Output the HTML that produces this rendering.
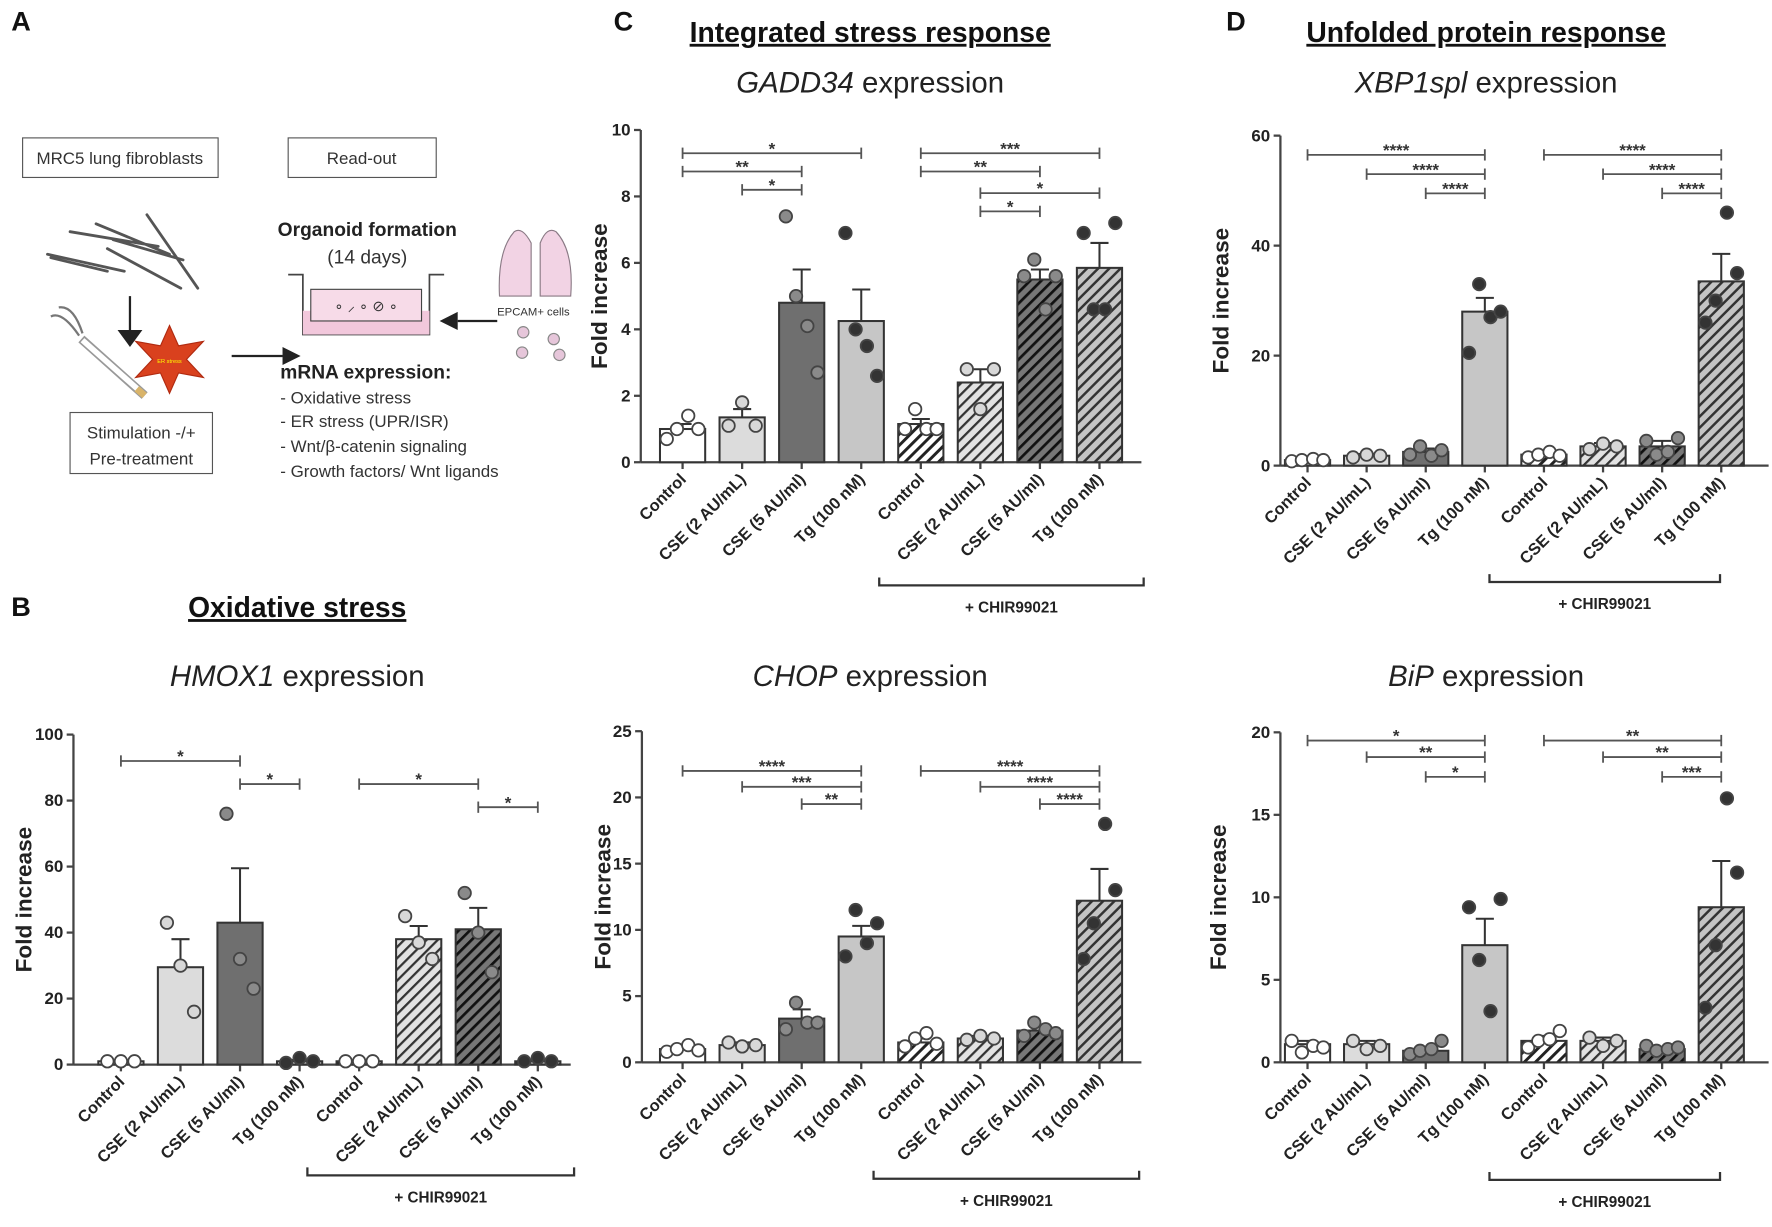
<!DOCTYPE html>
<html><head><meta charset="utf-8"><style>
html,body{margin:0;padding:0;background:#fff;}
svg{display:block;font-family:"Liberation Sans",Arial,sans-serif;}
</style></head><body>
<svg id="fig" width="1772" height="1227" viewBox="0 0 1568 1085.7" xmlns="http://www.w3.org/2000/svg">
<defs>
<pattern id="h0" patternUnits="userSpaceOnUse" width="7" height="7" patternTransform="rotate(45)"><rect width="7" height="7" fill="#fff"/><rect width="2.6" height="7" fill="#222"/></pattern>
<pattern id="h1" patternUnits="userSpaceOnUse" width="7" height="7" patternTransform="rotate(45)"><rect width="7" height="7" fill="#e2e2e2"/><rect width="2" height="7" fill="#333"/></pattern>
<pattern id="h2" patternUnits="userSpaceOnUse" width="7" height="7" patternTransform="rotate(45)"><rect width="7" height="7" fill="#777"/><rect width="2.4" height="7" fill="#111"/></pattern>
<pattern id="h3" patternUnits="userSpaceOnUse" width="7" height="7" patternTransform="rotate(45)"><rect width="7" height="7" fill="#c4c4c4"/><rect width="2.2" height="7" fill="#333"/></pattern>
</defs>

<g font-weight="bold" font-size="24" fill="#111">
<text x="10" y="27">A</text>
<text x="543" y="27">C</text>
<text x="1085" y="27">D</text>
<text x="10" y="545">B</text>
</g>
<g font-weight="bold" font-size="25" fill="#111" text-anchor="middle" text-decoration="underline">
<text x="770" y="37">Integrated stress response</text>
<text x="1315" y="37">Unfolded protein response</text>
<text x="263" y="546">Oxidative stress</text>
</g>
<g font-size="26" fill="#222" text-anchor="middle">
<text x="770" y="82"><tspan font-style="italic">GADD34</tspan> expression</text>
<text x="1315" y="82"><tspan font-style="italic">XBP1spl</tspan> expression</text>
<text x="263" y="607"><tspan font-style="italic">HMOX1</tspan> expression</text>
<text x="770" y="607"><tspan font-style="italic">CHOP</tspan> expression</text>
<text x="1315" y="607"><tspan font-style="italic">BiP</tspan> expression</text>
</g>

<!-- Panel A schematic -->
<g fill="#333" font-size="15">
<rect x="20" y="122" width="173" height="35" fill="#fff" stroke="#555"/>
<text x="106" y="145" text-anchor="middle" font-size="15">MRC5 lung fibroblasts</text>
<rect x="255" y="122" width="131" height="35" fill="#fff" stroke="#555"/>
<text x="320" y="145" text-anchor="middle">Read-out</text>
<g stroke="#555" stroke-width="2.5" fill="none" stroke-linecap="round">
<path d="M42 225 L110 240 M62 205 L140 218 M85 198 L150 225 M100 212 L162 230 M130 190 L175 255 M95 220 L160 255 M45 228 L95 240"/>
</g>
<line x1="115" y1="262" x2="115" y2="292" stroke="#222" stroke-width="2"/>
<polygon points="104,292 126,292 115,307" fill="#222"/>
<polygon points="150,288 158,306 180,302 165,318 180,334 158,330 150,348 142,330 120,334 135,318 120,302 142,306" fill="#d9411e" stroke="#b02a10"/>
<text x="150" y="321" font-size="5" fill="#ff0" text-anchor="middle">ER stress</text>
<line x1="72" y1="300" x2="128" y2="350" stroke="#999" stroke-width="8"/>
<line x1="73" y1="301" x2="126" y2="348" stroke="#fff" stroke-width="5"/>
<line x1="121" y1="344" x2="128" y2="350" stroke="#d9b46a" stroke-width="6"/>
<path d="M70 297 Q55 275 45 280 M73 295 Q65 270 52 272" stroke="#777" stroke-width="2" fill="none"/>
<rect x="62" y="365" width="126" height="54" fill="#fff" stroke="#555"/>
<text x="125" y="388" text-anchor="middle" font-size="15">Stimulation -/+</text>
<text x="125" y="411" text-anchor="middle" font-size="15">Pre-treatment</text>
<line x1="205" y1="315" x2="250" y2="315" stroke="#222" stroke-width="2"/>
<polygon points="250,307 266,315 250,323" fill="#222"/>
<text x="325" y="209" text-anchor="middle" font-weight="bold" font-size="17" fill="#222">Organoid formation</text>
<text x="325" y="233" text-anchor="middle" font-size="17">(14 days)</text>
<path d="M255 243 H268 V296 H380 V243 H393" stroke="#444" stroke-width="1.5" fill="none"/>
<rect x="268" y="275" width="112" height="21" fill="#f2c8dc"/>
<rect x="275" y="256" width="98" height="28" fill="#f7dbe8" stroke="#444"/>
<text x="324" y="275" text-anchor="middle" font-size="13">∘ ⸝ ∘ ⊘ ∘</text>
<path d="M455 205 Q440 222 442 262 L470 262 L470 215 Q462 200 455 205 Z M478 215 L478 262 L505 262 Q508 222 492 205 Q484 200 478 215 Z" fill="#f2d3e4" stroke="#8a7a85"/>
<text x="472" y="279" text-anchor="middle" font-size="10">EPCAM+ cells</text>
<line x1="440" y1="284" x2="405" y2="284" stroke="#222" stroke-width="2"/>
<polygon points="405,276 389,284 405,292" fill="#222"/>
<g fill="#e6c6da" stroke="#888"><circle cx="463" cy="294" r="5"/><circle cx="490" cy="300" r="5"/><circle cx="462" cy="312" r="5"/><circle cx="495" cy="314" r="5"/></g>
<text x="248" y="335" font-weight="bold" font-size="17" fill="#222">mRNA expression:</text>
<text x="248" y="357" font-size="15">- Oxidative stress</text>
<text x="248" y="378" font-size="15">- ER stress (UPR/ISR)</text>
<text x="248" y="400" font-size="15">- Wnt/β-catenin signaling</text>
<text x="248" y="422" font-size="15">- Growth factors/ Wnt ligands</text>
</g>
<g id="charts"></g>
</svg>
<script>
const categories = ["Control","CSE (2 AU/mL)","CSE (5 AU/ml)","Tg (100 nM)","Control","CSE (2 AU/mL)","CSE (5 AU/ml)","Tg (100 nM)"];

const gadd34Means = [1.0,1.35,4.8,4.25,1.15,2.4,5.5,5.85];
const gadd34Sem = [0.15,0.25,1.0,0.95,0.15,0.4,0.3,0.75];
const gadd34Dots = [[0.7,1.0,1.4,1.0],[1.1,1.8,1.1],[7.4,5.0,4.1,2.7],[6.9,4.0,3.5,2.6],[1.0,1.6,1.0,1.0],[2.8,1.6,2.8],[5.6,6.1,4.6,5.6],[6.9,4.6,4.6,7.2]];
const gadd34Ticks = [0,2,4,6,8,10];
const gadd34Sig = [[0,3,9.3,"*"],[0,2,8.75,"**"],[1,2,8.2,"*"],[4,7,9.3,"***"],[4,6,8.75,"**"],[5,7,8.1,"*"],[5,6,7.55,"*"]];

const xbpMeans = [1.0,1.8,2.5,28,2.0,3.5,3.5,33.5];
const xbpSem = [0.2,0.3,0.6,2.5,0.4,0.6,1.0,5.0];
const xbpDots = [[0.8,1.0,1.2,1.0],[1.5,2.0,1.8],[2.0,3.5,1.8,2.8],[20.5,33,27,28],[1.5,2.0,2.5,1.8],[3.0,4.0,3.5],[4.5,2.0,2.5,5.0],[26,30,46,35]];
const xbpTicks = [0,20,40,60];
const xbpSig = [[0,3,56.5,"****"],[1,3,53,"****"],[2,3,49.5,"****"],[4,7,56.5,"****"],[5,7,53,"****"],[6,7,49.5,"****"]];

const hmoxMeans = [1,29.5,43,1,1,38,41,1];
const hmoxSem = [0.3,8.5,16.5,0.4,0.3,4,6.5,0.4];
const hmoxDots = [[1,1,1],[43,30,16],[76,32,23],[0.5,2,1],[1,1,1],[45,37,32],[52,40,28],[1,2,1]];
const hmoxTicks = [0,20,40,60,80,100];
const hmoxSig = [[0,2,92,"*"],[2,3,85,"*"],[4,6,85,"*"],[6,7,78,"*"]];

const chopMeans = [1.0,1.3,3.3,9.5,1.5,1.8,2.4,12.2];
const chopSem = [0.2,0.2,0.7,0.8,0.3,0.2,0.3,2.4];
const chopDots = [[0.8,1.0,1.3,0.9],[1.5,1.2,1.3],[2.5,4.5,3.0,3.0],[8.0,11.5,9.0,10.5],[1.2,1.8,2.2,1.4],[1.7,2.0,1.8],[2.0,3.0,2.5,2.2],[7.8,10.5,18,13]];
const chopTicks = [0,5,10,15,20,25];
const chopSig = [[0,3,22,"****"],[1,3,20.8,"***"],[2,3,19.5,"**"],[4,7,22,"****"],[5,7,20.8,"****"],[6,7,19.5,"****"]];

const bipMeans = [1.1,1.1,0.7,7.1,1.3,1.3,0.8,9.4];
const bipSem = [0.2,0.2,0.1,1.6,0.3,0.2,0.1,2.8];
const bipDots = [[1.3,0.6,1.0,0.9],[1.3,0.8,1.0],[0.5,0.7,0.8,1.3],[9.4,6.2,3.1,9.9],[0.9,1.3,1.4,1.9],[1.5,1.0,1.3],[1.0,0.7,0.8,0.9],[3.3,7.1,16,11.5]];
const bipTicks = [0,5,10,15,20];
const bipSig = [[0,3,19.5,"*"],[1,3,18.5,"**"],[2,3,17.3,"*"],[4,7,19.5,"**"],[5,7,18.5,"**"],[6,7,17.3,"***"]];

const NS="http://www.w3.org/2000/svg";
const root=document.getElementById('charts');
function el(tag,attrs,parent){const e=document.createElementNS(NS,tag);for(const k in attrs)e.setAttribute(k,attrs[k]);(parent||root).appendChild(e);return e;}
const barFills=["#ffffff","#dcdcdc","#6f6f6f","#c6c6c6","url(#h0)","url(#h1)","url(#h2)","url(#h3)"];
const dotFills=["#ffffff","#d8d8d8","#8a8a8a","#333333","#ffffff","#d8d8d8","#8a8a8a","#333333"];

function chart(name,cfg,means,sem,dots,ticks,sig){
  const g=el('g',{});
  
  
  const x0=cfg.ax, y0=cfg.y0, y1=cfg.y1, maxV=ticks[ticks.length-1];
  const yS=v=>y0-(v/maxV)*(y0-y1);
  const xS=i=>cfg.cx0+i*cfg.step;
  const ya=el('line',{x1:x0,y1:y0,x2:x0,y2:y1,stroke:'#444','stroke-width':2},g);
  
  
  ticks.forEach(t=>{
    el('line',{x1:x0-6,y1:yS(t),x2:x0,y2:yS(t),stroke:'#444','stroke-width':2},g);
    const tl=el('text',{x:x0-9,y:yS(t)+5,'text-anchor':'end','font-size':15,'font-weight':'bold',fill:'#222'},g);
    tl.textContent=t;
    
    
  });
  const yt=el('text',{transform:`translate(${cfg.ytx},${(y0+y1)/2}) rotate(-90)`,'text-anchor':'middle','font-size':20,'font-weight':'bold',fill:'#222'},g);
  yt.textContent='Fold increase';
  
  
  const xa=el('line',{x1:x0,y1:y0,x2:cfg.axEnd,y2:y0,stroke:'#444','stroke-width':2},g);
  
  
  const bw=cfg.bw;
  means.forEach((m,i)=>{
    const cx=xS(i);
    el('line',{x1:cx,y1:y0,x2:cx,y2:y0+6,stroke:'#444','stroke-width':2},g);
    const b=el('rect',{x:cx-bw/2,y:yS(m),width:bw,height:y0-yS(m),fill:barFills[i],stroke:'#333','stroke-width':1.8},g);
    
    
    const top=yS(m+sem[i]);
    el('line',{x1:cx,y1:yS(m),x2:cx,y2:top,stroke:'#333','stroke-width':1.8},g);
    el('line',{x1:cx-8,y1:top,x2:cx+8,y2:top,stroke:'#333','stroke-width':1.8},g);
    const d=dots[i], n=d.length;
    const offs=n===4?[-14,-5,5,14]:[-12,0,12];
    d.forEach((v,j)=>{
      const c=el('circle',{cx:cx+offs[j],cy:yS(v),r:5.5,fill:dotFills[i],stroke:'#444','stroke-width':1.6},g);
      
      
    });
    const lab=el('text',{transform:`translate(${cx+4},${y0+16}) rotate(-45)`,'text-anchor':'end','font-size':14.5,'font-weight':'bold',fill:'#222'},g);
    lab.textContent=categories[i];
    
    
  });
  sig.forEach(s=>{
    const xa_=xS(s[0]),xb=xS(s[1]),yy=yS(s[2]);
    const sg=el('g',{stroke:'#555','stroke-width':1.6},g);
    
    
    el('line',{x1:xa_,y1:yy,x2:xb,y2:yy},sg);
    el('line',{x1:xa_,y1:yy-5,x2:xa_,y2:yy+5},sg);
    el('line',{x1:xb,y1:yy-5,x2:xb,y2:yy+5},sg);
    const st=el('text',{x:(xa_+xb)/2,y:yy+1,'text-anchor':'middle','font-size':15,'font-weight':'bold',fill:'#333'},g);
    st.textContent=s[3];
  });
  const br=el('path',{d:`M${cfg.brx0} ${cfg.bry-7} V${cfg.bry} H${cfg.brx1} V${cfg.bry-7}`,fill:'none',stroke:'#333','stroke-width':2},g);
  
  
  const bt=el('text',{x:(cfg.brx0+cfg.brx1)/2,y:cfg.bry+24,'text-anchor':'middle','font-size':13.5,'font-weight':'bold',fill:'#222'},g);
  bt.textContent='+ CHIR99021';
  
  
}

chart('gadd34',{ax:567,y0:409,y1:115,cx0:604,step:52.7,bw:40,axEnd:1010,ytx:537,brx0:778,brx1:1012,bry:518},gadd34Means,gadd34Sem,gadd34Dots,gadd34Ticks,gadd34Sig);
chart('xbp1spl',{ax:1133,y0:412,y1:120,cx0:1157,step:52.3,bw:40,axEnd:1565,ytx:1087,brx0:1318,brx1:1522,bry:515},xbpMeans,xbpSem,xbpDots,xbpTicks,xbpSig);
chart('hmox1',{ax:65,y0:942,y1:650,cx0:107,step:52.7,bw:40,axEnd:505,ytx:28,brx0:272,brx1:508,bry:1040},hmoxMeans,hmoxSem,hmoxDots,hmoxTicks,hmoxSig);
chart('chop',{ax:568,y0:940,y1:647,cx0:604,step:52.7,bw:40,axEnd:1010,ytx:540,brx0:773,brx1:1008,bry:1043},chopMeans,chopSem,chopDots,chopTicks,chopSig);
chart('bip',{ax:1133,y0:940,y1:648,cx0:1157,step:52.3,bw:40,axEnd:1565,ytx:1085,brx0:1318,brx1:1522,bry:1044},bipMeans,bipSem,bipDots,bipTicks,bipSig);
</script>
</body></html>
